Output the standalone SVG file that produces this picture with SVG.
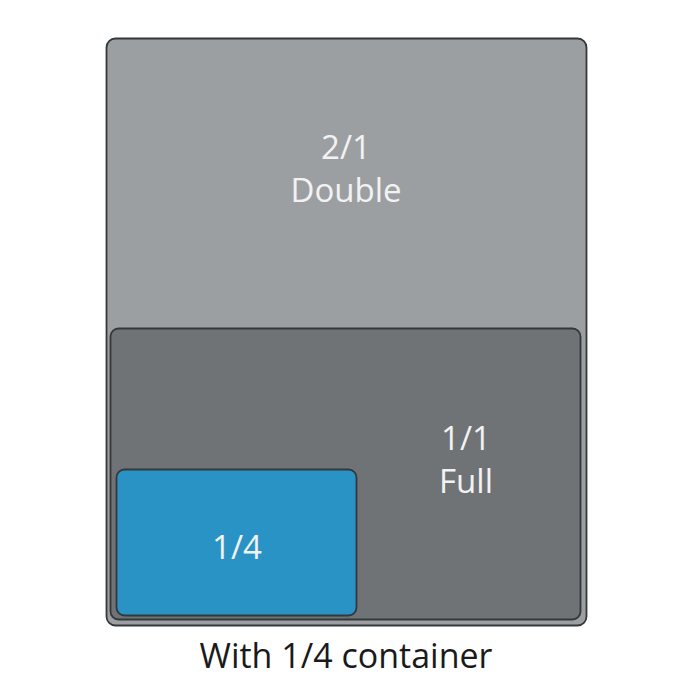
<svg xmlns="http://www.w3.org/2000/svg" width="700" height="700" viewBox="0 0 700 700">
<style>
.box{stroke:#33383b;stroke-width:1.8}
.lbl{font-family:"Open Sans","Liberation Sans",sans-serif;font-size:33px;fill:#f2f2f2;text-anchor:middle}
.cap{font-family:"Open Sans","Liberation Sans",sans-serif;font-size:34px;fill:#1a1a1a;text-anchor:middle}
</style>
<rect width="700" height="700" fill="#ffffff"/>
<g id="double">
<rect class="box" x="106.5" y="38.5" width="480" height="587" rx="9" fill="#9c9fa2"/>
<text class="lbl" x="346" y="159">2/1</text>
<text class="lbl" x="346" y="202">Double</text>
</g>
<g id="full">
<rect class="box" x="110.5" y="328.5" width="470" height="291" rx="8" fill="#6f7376"/>
<text class="lbl" x="466" y="450">1/1</text>
<text class="lbl" x="466" y="493">Full</text>
</g>
<g id="quarter">
<rect class="box" x="116.5" y="469.5" width="240" height="146" rx="8" fill="#2a93c5"/>
<text class="lbl" x="237" y="559">1/4</text>
</g>
<g id="caption">
<text class="cap" x="346" y="668">With 1/4 container</text>
</g>
</svg>
